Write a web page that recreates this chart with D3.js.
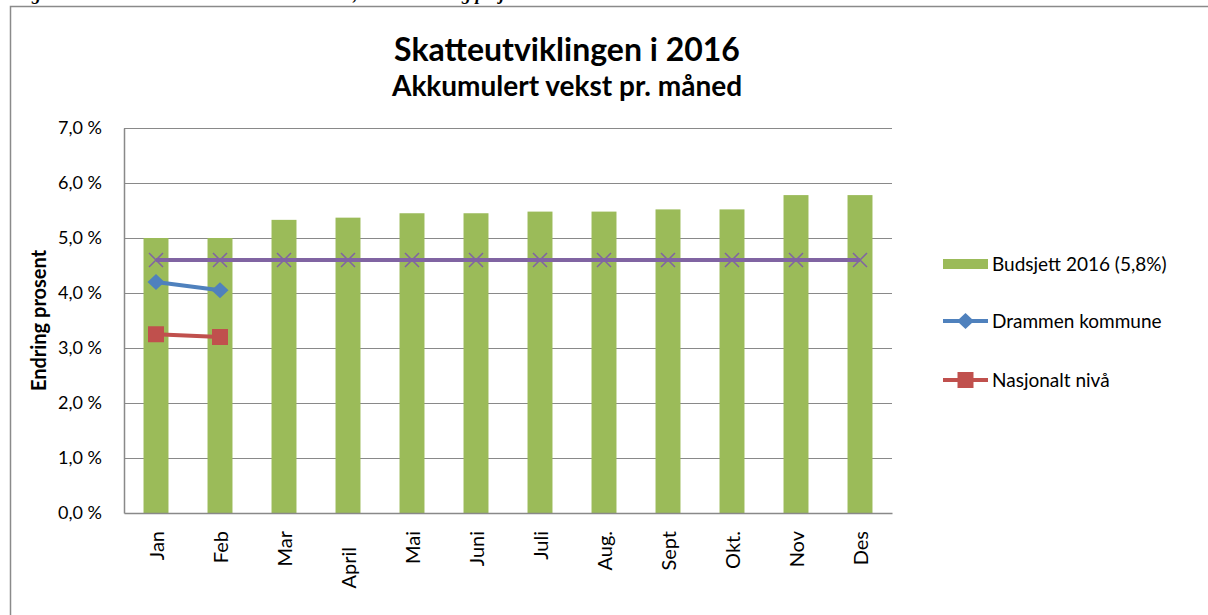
<!DOCTYPE html>
<html lang="no">
<head>
<meta charset="UTF-8">
<title>Skatteutviklingen i 2016</title>
<style>
    body { margin: 0; background: #fff; }
    svg { display: block; font-family: Lato, "Open Sans", sans-serif; }
</style>
</head>
<body>
<script src="https://cdn.jsdelivr.net/npm/d3@7"></script>
<script>
    const W = 1208, H = 615;

    // data lest av bildet
    const maaneder = ["Jan", "Feb", "Mar", "April", "Mai", "Juni", "Juli", "Aug.", "Sept", "Okt.", "Nov", "Des"];
    const budsjett = [5.0, 5.0, 5.33, 5.37, 5.45, 5.45, 5.48, 5.48, 5.52, 5.52, 5.78, 5.78];
    const drammen = [4.2, 4.05];
    const nasjonalt = [3.25, 3.2];
    const referanse = [4.6, 4.6, 4.6, 4.6, 4.6, 4.6, 4.6, 4.6, 4.6, 4.6, 4.6, 4.6];
    const yTicks = [0, 1, 2, 3, 4, 5, 6, 7];
    const seriesNavn = ["Budsjett 2016 (5,8%)", "Drammen kommune", "Nasjonalt nivå"];

    const col = { green: "#9BBB59", blue: "#4F81BD", red: "#C0504D", purple: "#8064A2", grid: "#898989" };

    const svg = d3.select("body").append("svg")
        .attr("width", W)
        .attr("height", H);

    // figurtekst over diagrammet (bare nederste del synes)
    svg.append("text")
        .attr("x", 15).attr("y", 0)
        .style("font-family", "'Liberation Serif', serif")
        .style("font-style", "italic").style("font-weight", "bold")
        .style("font-size", "18px")
        .text("Figur 1: Skatteinntekter Drammen kommune, skatteutvikling pr. januar");

    // ramme rundt diagrammet
    svg.append("rect")
        .attr("x", 10.5).attr("y", 6.5)
        .attr("width", 1260).attr("height", 700)
        .attr("fill", "#fff")
        .attr("stroke", "#8a8a8a").attr("stroke-width", 1.5);

    const plot = { left: 124, right: 892, top: 128, bottom: 513 };

    const x = d3.scaleBand()
        .domain(maaneder)
        .range([plot.left, plot.right])
        .paddingInner(0.61).paddingOuter(0.305);

    const xc = d3.scalePoint()
        .domain(maaneder)
        .range([plot.left, plot.right])
        .padding(0.5);

    const y = d3.scaleLinear()
        .domain([0, 7])
        .range([plot.bottom, plot.top]);

    // rutenett
    svg.append("g")
        .selectAll("line")
        .data(yTicks.filter(d => d > 0))
        .join("line")
        .attr("x1", plot.left).attr("x2", plot.right)
        .attr("y1", d => Math.round(y(d)) + 0.5).attr("y2", d => Math.round(y(d)) + 0.5)
        .attr("stroke", col.grid).attr("stroke-width", 1.2);

    // y-akse
    const yAxis = svg.append("g")
        .attr("transform", `translate(${plot.left},0)`)
        .call(d3.axisLeft(y).tickValues(yTicks).tickSize(0).tickPadding(22)
            .tickFormat(d => d3.format(".1f")(d).replace(".", ",") + " %"));
    yAxis.select(".domain").attr("stroke", col.grid).attr("stroke-width", 1.5);
    yAxis.selectAll("text").style("font-size", "18px").style("fill", "#000")
        .style("font-family", "Lato, sans-serif");

    // stolper
    svg.append("g")
        .selectAll("rect")
        .data(maaneder.map((m, i) => ({ m, v: budsjett[i] })))
        .join("rect")
        .attr("x", d => x(d.m))
        .attr("y", d => y(d.v))
        .attr("width", x.bandwidth())
        .attr("height", d => y(0) - y(d.v))
        .attr("fill", col.green);

    // x-akse
    const xAxis = svg.append("g")
        .attr("transform", `translate(0,${plot.bottom})`)
        .call(d3.axisBottom(xc).tickSize(0).tickPadding(0));
    xAxis.select(".domain").attr("stroke", col.grid).attr("stroke-width", 1.5);
    xAxis.selectAll("text")
        .attr("transform", d => `translate(0,${d === "April" ? 34 : 18}) rotate(-90)`)
        .attr("dy", "0.35em")
        .attr("x", 0).attr("y", 0)
        .style("text-anchor", "end")
        .style("font-size", "20px").style("fill", "#000")
        .style("font-family", "Lato, sans-serif");

    const line = d3.line()
        .x((d, i) => xc(maaneder[i]))
        .y(d => y(d));

    // referanselinje (lilla med kryss)
    svg.append("path")
        .datum(referanse)
        .attr("d", line)
        .attr("fill", "none")
        .attr("stroke", col.purple).attr("stroke-width", 4);
    svg.append("g")
        .selectAll("path")
        .data(referanse)
        .join("path")
        .attr("d", "M-7,-7L7,7M-7,7L7,-7")
        .attr("transform", (d, i) => `translate(${xc(maaneder[i])},${y(d)})`)
        .attr("stroke", col.purple).attr("stroke-width", 1.5);

    const diamond = "M0,-8L8.5,0L0,8L-8.5,0Z";
    const square = d3.symbol().type(d3.symbolSquare).size(256);

    // Drammen kommune
    svg.append("path")
        .datum(drammen)
        .attr("d", line)
        .attr("fill", "none")
        .attr("stroke", col.blue).attr("stroke-width", 4);
    svg.append("g")
        .selectAll("path")
        .data(drammen)
        .join("path")
        .attr("d", diamond)
        .attr("transform", (d, i) => `translate(${xc(maaneder[i])},${y(d)})`)
        .attr("fill", col.blue);

    // Nasjonalt nivå
    svg.append("path")
        .datum(nasjonalt)
        .attr("d", line)
        .attr("fill", "none")
        .attr("stroke", col.red).attr("stroke-width", 4);
    svg.append("g")
        .selectAll("path")
        .data(nasjonalt)
        .join("path")
        .attr("d", square)
        .attr("transform", (d, i) => `translate(${xc(maaneder[i])},${y(d)})`)
        .attr("fill", col.red);

    // y-aksetittel
    svg.append("text")
        .attr("transform", `translate(46,${(plot.top + plot.bottom) / 2}) rotate(-90)`)
        .attr("text-anchor", "middle")
        .style("font-size", "20px").style("font-weight", "bold")
        .text("Endring prosent");

    // titler
    svg.append("text")
        .attr("x", 567).attr("y", 61)
        .attr("text-anchor", "middle")
        .style("font-size", "32px").style("font-weight", "bold")
        .text("Skatteutviklingen i 2016");
    svg.append("text")
        .attr("x", 567).attr("y", 96)
        .attr("text-anchor", "middle")
        .style("font-size", "28px").style("font-weight", "bold")
        .text("Akkumulert vekst pr. måned");

    // forklaring
    const leg = svg.append("g").attr("transform", "translate(943,0)");
    const legY = [264, 321, 380];
    leg.append("rect")
        .attr("x", 0).attr("y", legY[0] - 5)
        .attr("width", 45).attr("height", 10)
        .attr("fill", col.green);
    leg.append("line")
        .attr("x1", 0).attr("x2", 45).attr("y1", legY[1]).attr("y2", legY[1])
        .attr("stroke", col.blue).attr("stroke-width", 4);
    leg.append("path")
        .attr("d", diamond)
        .attr("transform", `translate(22.5,${legY[1]})`)
        .attr("fill", col.blue);
    leg.append("line")
        .attr("x1", 0).attr("x2", 45).attr("y1", legY[2]).attr("y2", legY[2])
        .attr("stroke", col.red).attr("stroke-width", 4);
    leg.append("path")
        .attr("d", square)
        .attr("transform", `translate(22.5,${legY[2]})`)
        .attr("fill", col.red);
    leg.selectAll("text.leg")
        .data(seriesNavn)
        .join("text")
        .attr("class", "leg")
        .attr("x", 49)
        .attr("y", (d, i) => legY[i])
        .attr("dy", "0.35em")
        .style("font-size", "19px")
        .text(d => d);
</script>
</body>
</html>
